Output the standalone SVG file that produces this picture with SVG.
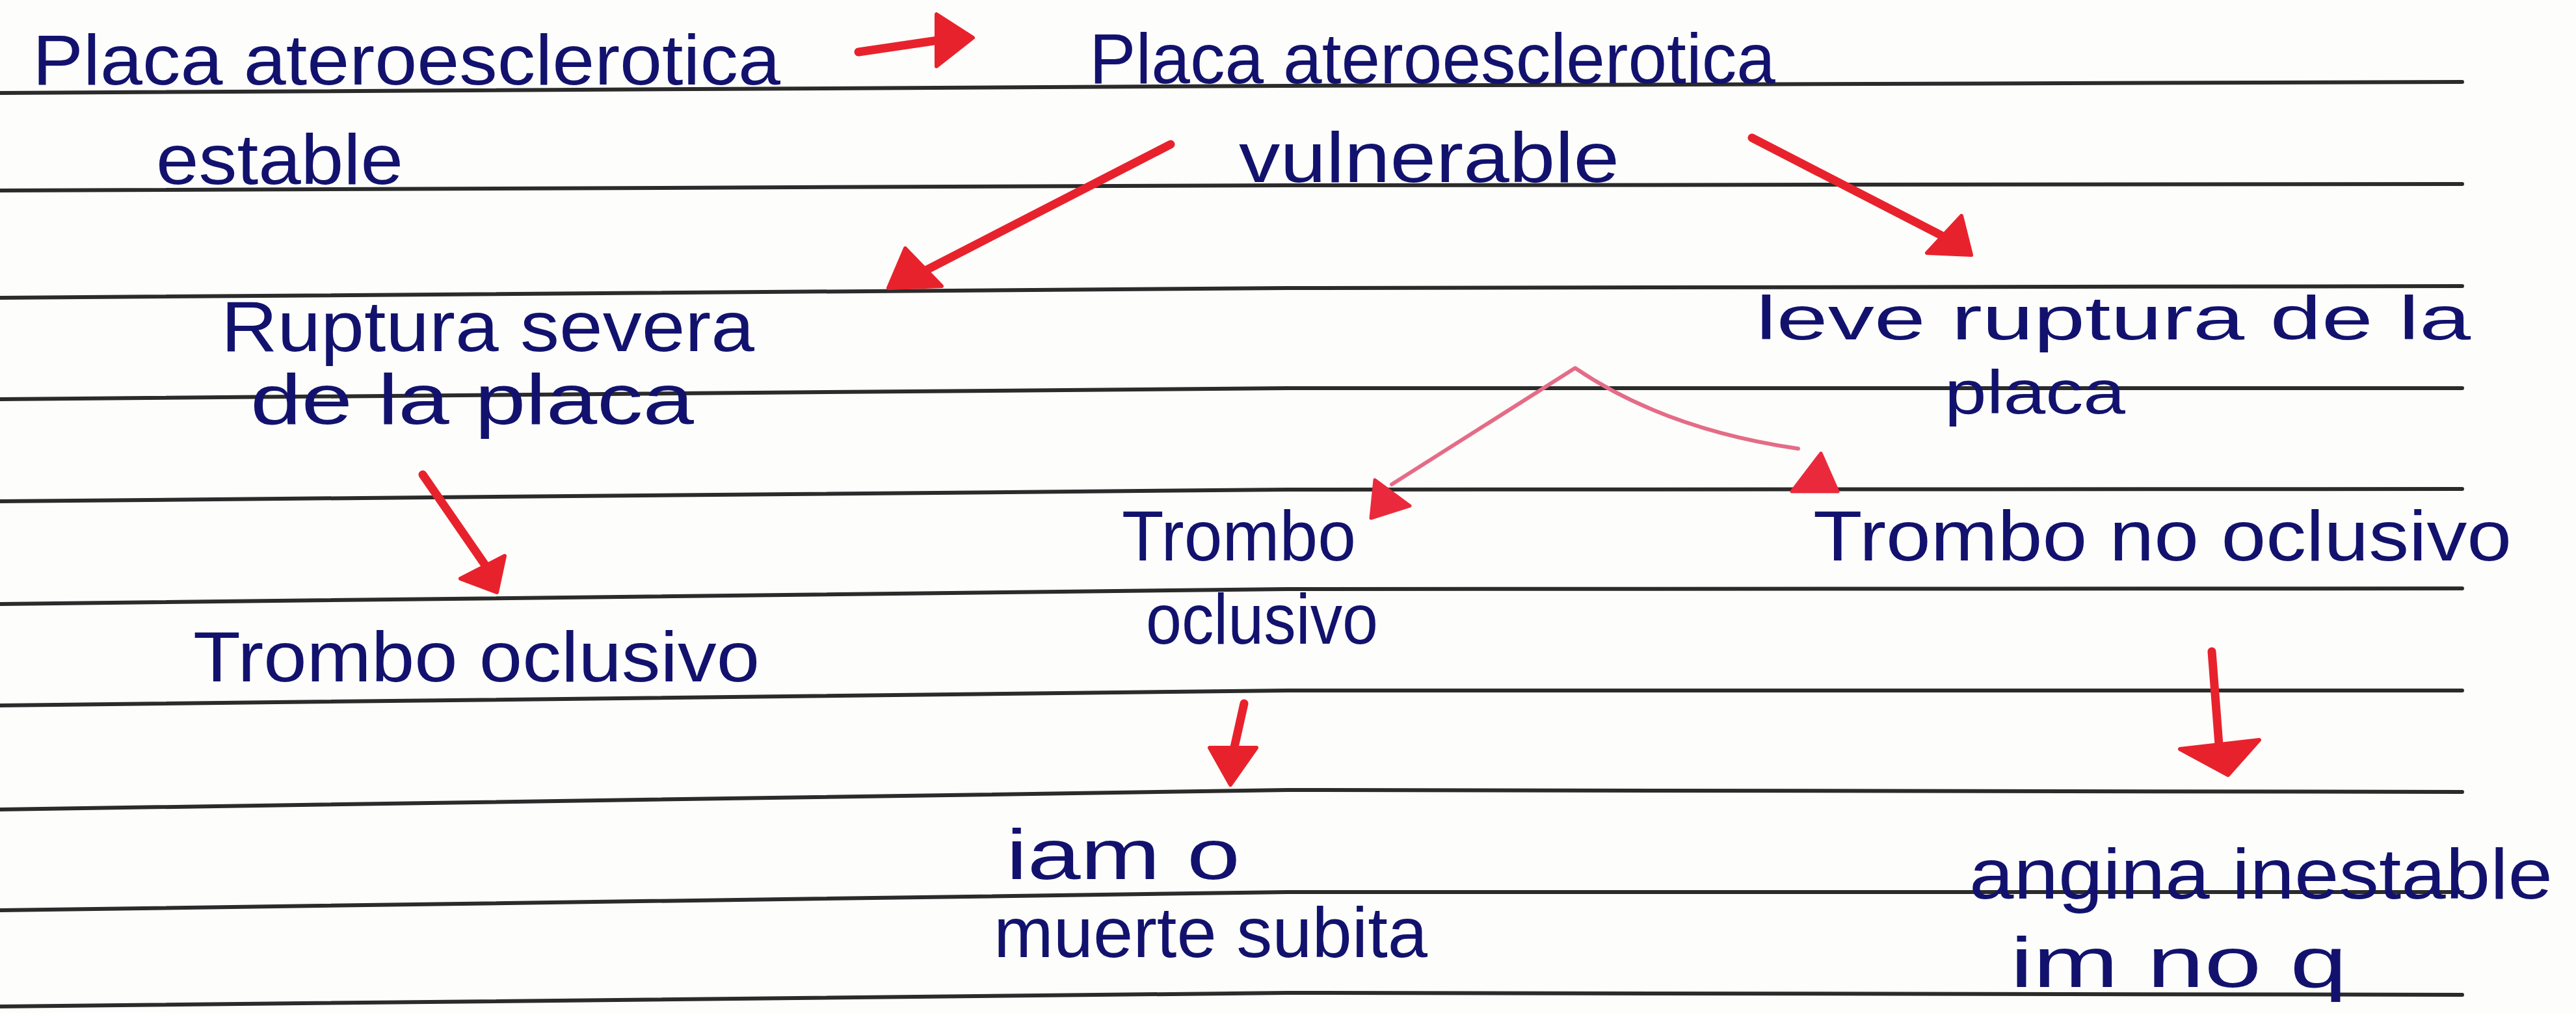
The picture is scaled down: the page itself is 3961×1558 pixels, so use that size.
<svg xmlns="http://www.w3.org/2000/svg" width="3961" height="1558" viewBox="0 0 3961 1558">
<style>
.rule{fill:none;stroke:#2b2b2b;stroke-width:6;stroke-linecap:round}
.t{font-family:"Liberation Sans","DejaVu Sans",sans-serif;font-size:110px;fill:#12126e}
.s{font-size:94px}
.ar{fill:none;stroke:#e8222c;stroke-width:13;stroke-linecap:round;stroke-linejoin:round}
.ah{fill:#e8222c;stroke:#e8222c;stroke-width:6;stroke-linejoin:round}
.pk{fill:none;stroke:#e46c86;stroke-width:6;stroke-linecap:round;stroke-linejoin:round}
.ph{fill:#ea2a3c;stroke:#ea2a3c;stroke-width:5;stroke-linejoin:round}
</style>
<rect width="3961" height="1558" fill="#fdfdfb"/>
<g id="ruled-lines">
<path class="rule" d="M0 143 L1980 132 L3786 126"/>
<path class="rule" d="M0 293 L1980 285 L3786 283"/>
<path class="rule" d="M0 458 L1980 443 L3786 440"/>
<path class="rule" d="M0 614 L1980 597 L3786 597"/>
<path class="rule" d="M0 771 L1980 753 L3786 752"/>
<path class="rule" d="M0 929 L1980 906 L3786 905"/>
<path class="rule" d="M0 1085 L1980 1062 L3786 1062"/>
<path class="rule" d="M0 1245 L1980 1215 L3786 1218"/>
<path class="rule" d="M0 1400 L1980 1372 L3786 1372"/>
<path class="rule" d="M0 1548 L1980 1527 L3786 1530"/>
</g>
<g id="node-placa-estable">
<text class="t" x="50" y="130" textLength="1150" lengthAdjust="spacingAndGlyphs">Placa ateroesclerotica</text>
<text class="t" x="240" y="283" textLength="380" lengthAdjust="spacingAndGlyphs">estable</text>
</g>
<g id="node-placa-vulnerable">
<text class="t" x="1675" y="128" textLength="1055" lengthAdjust="spacingAndGlyphs">Placa ateroesclerotica</text>
<text class="t" x="1905" y="280" textLength="585" lengthAdjust="spacingAndGlyphs">vulnerable</text>
</g>
<g id="node-ruptura-severa">
<text class="t" x="340" y="540" textLength="820" lengthAdjust="spacingAndGlyphs">Ruptura severa</text>
<text class="t" x="385" y="652" textLength="682" lengthAdjust="spacingAndGlyphs">de la placa</text>
</g>
<g id="node-trombo-oclusivo-1">
<text class="t" x="297" y="1048" textLength="871" lengthAdjust="spacingAndGlyphs">Trombo oclusivo</text>
</g>
<g id="node-leve-ruptura">
<text class="t s" x="2700" y="522" textLength="1099" lengthAdjust="spacingAndGlyphs">leve ruptura de la</text>
<text class="t s" x="2990" y="636" textLength="278" lengthAdjust="spacingAndGlyphs">placa</text>
</g>
<g id="node-trombo-oclusivo-2">
<text class="t" x="1725" y="862" textLength="360" lengthAdjust="spacingAndGlyphs">Trombo</text>
<text class="t" x="1762" y="990" textLength="357" lengthAdjust="spacingAndGlyphs">oclusivo</text>
</g>
<g id="node-trombo-no-oclusivo">
<text class="t" x="2788" y="862" textLength="1074" lengthAdjust="spacingAndGlyphs">Trombo no oclusivo</text>
</g>
<g id="node-iam">
<text class="t" x="1547" y="1352" textLength="360" lengthAdjust="spacingAndGlyphs">iam o</text>
<text class="t" x="1528" y="1472" textLength="667" lengthAdjust="spacingAndGlyphs">muerte subita</text>
</g>
<g id="node-angina">
<text class="t" x="3028" y="1382" textLength="897" lengthAdjust="spacingAndGlyphs">angina inestable</text>
<text class="t" x="3091" y="1518" textLength="518" lengthAdjust="spacingAndGlyphs">im no q</text>
</g>
<g id="connectors">
<path class="ar" d="M1320 80 L1442 62"/>
<polygon class="ah" points="1440,22 1440,102 1496,58"/>
<path class="ar" d="M1800 222 L1425 415"/>
<polygon class="ah" points="1392,382 1366,443 1448,440"/>
<path class="ar" d="M2694 212 L2985 362"/>
<polygon class="ah" points="3016,332 2963,389 3031,392"/>
<path class="ar" d="M650 730 L748 872"/>
<polygon class="ah" points="776,855 708,890 764,911"/>
<path class="pk" d="M2140 745 L2422 566 Q2560 660 2765 690"/>
<polygon class="ph" points="2114,738 2168,778 2108,797"/>
<polygon class="ph" points="2800,697 2755,756 2826,756"/>
<path class="ar" d="M1913 1082 L1896 1158"/>
<polygon class="ah" points="1860,1150 1932,1150 1892,1207"/>
<path class="ar" d="M3401 1002 L3412 1145"/>
<polygon class="ah" points="3352,1152 3474,1138 3426,1192"/>
</g>
</svg>
